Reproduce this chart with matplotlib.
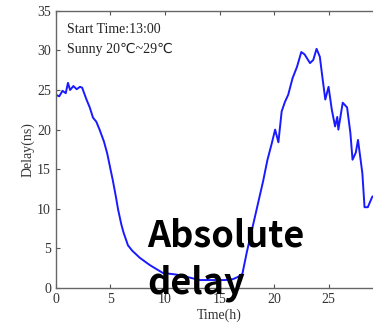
import matplotlib
matplotlib.use("Agg")
import matplotlib.pyplot as plt

# time (h) and absolute delay (ns)
time_h = [0, 0.3, 0.6, 0.9, 1.1, 1.3, 1.6, 1.9, 2.2, 2.4, 2.8, 3.1, 3.4, 3.7, 4.0,
          4.4, 4.7, 5.0, 5.2, 5.5, 5.7, 6.0, 6.2, 6.6, 7.0, 7.7, 8.2, 8.6, 9.2, 9.8,
          10.4, 11.0, 11.4, 12.3, 13.2, 14.0, 14.8, 15.5, 16.2, 16.7, 17.1, 17.5,
          18.0, 18.5, 19.0, 19.4, 19.8, 20.1, 20.4, 20.7, 21.0, 21.3, 21.7, 22.1,
          22.5, 22.8, 23.3, 23.6, 23.9, 24.2, 24.4, 24.7, 25.0, 25.3, 25.6, 25.8,
          25.9, 26.3, 26.7, 27.0, 27.2, 27.5, 27.7, 28.1, 28.3, 28.6, 29.0, 29.5]
delay_ns = [24.4, 24.2, 24.9, 24.6, 25.9, 25.0, 25.5, 25.1, 25.4, 25.3, 23.8, 22.8,
            21.5, 21.0, 20.0, 18.5, 17.0, 15.0, 13.7, 11.5, 9.9, 8.0, 7.0, 5.4, 4.7,
            3.8, 3.3, 2.9, 2.4, 1.9, 1.8, 1.7, 1.6, 1.3, 1.0, 1.0, 1.0, 1.0, 1.1, 1.4,
            1.8, 4.5, 7.5, 10.5, 13.5, 16.2, 18.3, 20.0, 18.4, 22.3, 23.5, 24.4, 26.5,
            27.9, 29.8, 29.5, 28.4, 28.8, 30.2, 29.2, 27.0, 23.8, 25.4, 22.5, 20.4,
            21.6, 20.0, 23.4, 22.8, 19.6, 16.2, 17.1, 18.7, 14.5, 10.2, 10.2, 11.5, 12.0]

x_ticks = [0, 5, 10, 15, 20, 25, 30]
x_labels = ["0", "5", "10", "15", "20", "25", ""]
y_ticks = [0, 5, 10, 15, 20, 25, 30, 35]

serif = ["Liberation Serif", "DejaVu Sans"]

fig = plt.figure(figsize=(3.73, 3.28), dpi=100)
ax = fig.add_axes([0.150, 0.122, 0.877, 0.845])

ax.plot(time_h, delay_ns, color="#1a1aff", linewidth=1.4)

ax.set_xlim(0, 30)
ax.set_ylim(0, 35)
ax.set_xticks(x_ticks, x_labels)
ax.set_yticks(y_ticks)
ax.tick_params(direction="in", length=3, colors="#555555", labelcolor="#333333",
               labelsize=10, top=True, right=True)
for lbl in ax.get_xticklabels() + ax.get_yticklabels():
    lbl.set_family(serif)
for sp in ax.spines.values():
    sp.set_color("#666666")
    sp.set_linewidth(1.0)

ax.set_xlabel("Time(h)", family=serif, fontsize=10, color="#333333", labelpad=2)
ax.set_ylabel("Delay(ns)", family=serif, fontsize=10, color="#333333", labelpad=2)

ax.text(0.035, 0.955, "Start Time:13:00", transform=ax.transAxes, family=serif,
        fontsize=10, color="#222222", va="top")
ax.text(0.035, 0.885, "Sunny 20℃~29℃", transform=ax.transAxes, family=serif,
        fontsize=10, color="#222222", va="top")

ax.text(8.4, -0.7, "Absolute\ndelay", family=["Noto Sans CJK SC", "DejaVu Sans"],
        fontweight="bold", fontsize=26, color="black", ha="left", va="baseline",
        linespacing=1.35)

fig.savefig("out.png", dpi=100)
